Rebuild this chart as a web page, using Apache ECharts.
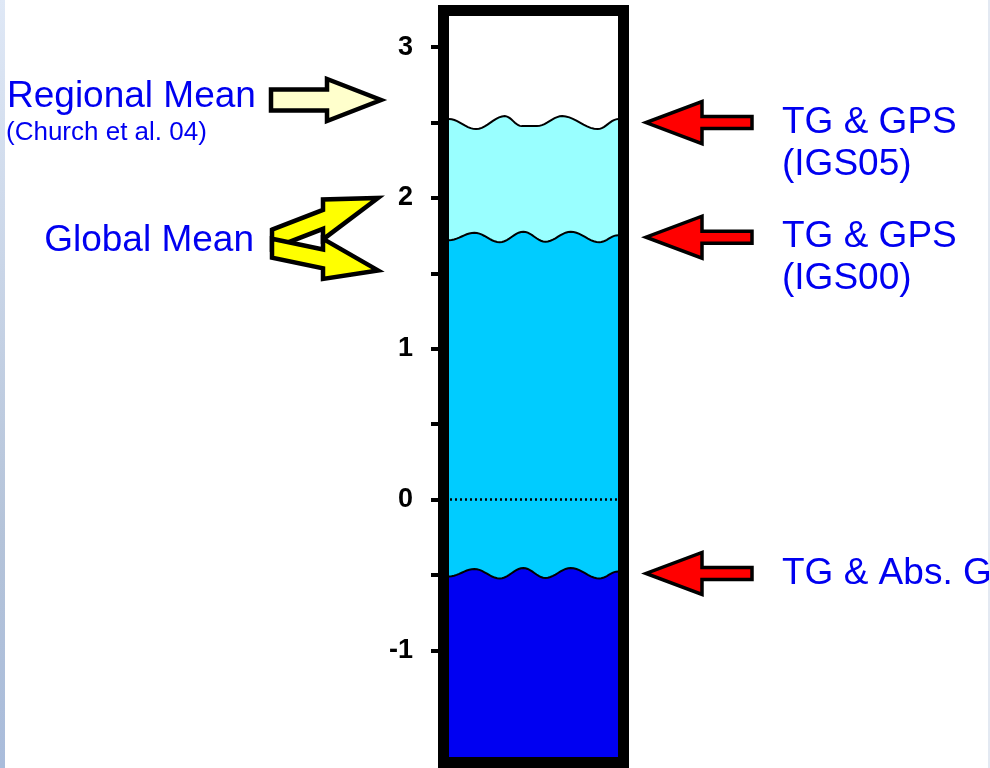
<!DOCTYPE html>
<html>
<head>
<meta charset="utf-8">
<script src="https://cdn.jsdelivr.net/npm/echarts@6/dist/echarts.min.js"></script>
<style>
  html, body { margin: 0; padding: 0; background: #ffffff; }
  #chart { width: 990px; height: 768px; }
</style>
</head>
<body>
<div id="chart"></div>
<script>
// ---- values ----
const axisMin = -1.78;
const axisMax = 3.28;
const labelTicks = [-1, 0, 1, 2, 3];
const tickValues = [-1, -0.5, 0, 0.5, 1, 1.5, 2, 2.5, 3];

// water levels inside the column, highest first
const levelNames = ['TG & GPS\n(IGS05)', 'TG & GPS\n(IGS00)', 'TG & Abs. G'];
const levelValues = [2.50, 1.74, -0.49];

const referenceLevel = 0;

const regionalMean = 2.65;
const regionalName = 'Regional Mean';
const regionalNote = '(Church et al. 04)';

const globalMeanValues = [2.0, 1.52];
const globalName = 'Global Mean';

// ---- style ----
const FONT = '"Liberation Sans", Arial, Helvetica, sans-serif';
const TEXT_BLUE = '#0000f0';
const LAYER_COLORS = ['#99ffff', '#00ccff', '#0000f2'];
const FRAME_W = 11;
// wave outlines: [fraction of column width, vertical offset in px]
const WAVE_TOP = [[0, -3.5], [0.16, 6.5], [0.33, -6.5], [0.43, 3.5], [0.52, 3.5], [0.67, -6.5], [0.88, 6.5], [1, -3.5]];
const WAVE_LOW = [[0, 3], [0.15, -4.5], [0.30, 5], [0.44, -5.5], [0.57, 4.5], [0.72, -5.5], [0.89, 5], [1, -2]];
const LAYER_WAVES = [WAVE_TOP, WAVE_LOW, WAVE_LOW];

function wavePoints(keys, x0, x1, yBase) {
  const pts = [];
  for (let k = 0; k < keys.length - 1; k++) {
    const [fa, da] = keys[k];
    const [fb, db] = keys[k + 1];
    const steps = 10;
    for (let s = 0; s < steps; s++) {
      const t = s / steps;
      const e = (1 - Math.cos(Math.PI * t)) / 2;
      const f = fa + (fb - fa) * t;
      pts.push([x0 + (x1 - x0) * f, yBase + da + (db - da) * e]);
    }
  }
  const last = keys[keys.length - 1];
  pts.push([x0 + (x1 - x0) * last[0], yBase + last[1]]);
  return pts;
}

// arrow whose tail and head base stay vertical; the shaft runs from tail to tip
function arrowPoints(xTail, yTail, xTip, yTip, shaftHalf, headHalf, headLen) {
  const slope = (yTip - yTail) / (xTip - xTail);
  const dir = Math.sign(xTip - xTail);
  const xNeck = xTip - dir * headLen;
  const yNeck = yTail + slope * (xNeck - xTail);
  return [
    [xTail, yTail - shaftHalf],
    [xNeck, yNeck - shaftHalf],
    [xNeck, yNeck - headHalf],
    [xTip, yTip],
    [xNeck, yNeck + headHalf],
    [xNeck, yNeck + shaftHalf],
    [xTail, yTail + shaftHalf]
  ];
}

function columnBox(api) {
  const tl = api.coord([0, axisMax]);
  const br = api.coord([1, axisMin]);
  return { left: tl[0], top: tl[1], right: br[0], bottom: br[1] };
}

const chart = echarts.init(document.getElementById('chart'), null, { renderer: 'canvas' });

const option = {
  animation: false,
  backgroundColor: '#ffffff',
  graphic: [
    {
      type: 'rect', left: 0, top: 0, z: 0,
      shape: { width: 5, height: 768 },
      style: {
        fill: new echarts.graphic.LinearGradient(0, 0, 0, 1, [
          { offset: 0, color: '#dfe8f6' },
          { offset: 0.7, color: '#b4c3d9' },
          { offset: 1, color: '#a9bcdb' }
        ])
      }
    },
    {
      type: 'rect', right: 0, top: 0, z: 0,
      shape: { width: 2, height: 768 },
      style: { fill: '#e3e9f2' }
    }
  ],
  grid: { left: 438, width: 191, top: 5, bottom: -4, containLabel: false },
  xAxis: { type: 'value', min: 0, max: 1, show: false },
  yAxis: {
    type: 'value',
    min: axisMin,
    max: axisMax,
    axisLine: { show: false },
    splitLine: { show: false },
    axisTick: {
      show: true,
      inside: false,
      length: 7,
      customValues: tickValues,
      lineStyle: { color: '#000', width: 4 }
    },
    axisLabel: {
      show: true,
      customValues: labelTicks,
      margin: 25,
      color: '#000',
      fontFamily: FONT,
      fontWeight: 'bold',
      fontSize: 27
    }
  },
  series: [
    {
      name: 'levels',
      type: 'custom',
      clip: false,
      data: levelValues.map((v, i) => ({ name: levelNames[i], value: [0, v] })),
      renderItem: function (params, api) {
        const i = params.dataIndex;
        const box = columnBox(api);
        const x0 = box.left + FRAME_W;
        const x1 = box.right - FRAME_W;
        const y = api.coord([0, api.value(1)])[1];
        const wave = wavePoints(LAYER_WAVES[i], x0, x1, y);
        const fillPts = wave.concat([[x1 + 2, box.bottom], [x0 - 2, box.bottom]]);
        const ax = box.right;
        return {
          type: 'group',
          children: [
            { type: 'polygon', shape: { points: fillPts }, style: { fill: LAYER_COLORS[i], stroke: null } },
            { type: 'polyline', shape: { points: wave }, style: { fill: null, stroke: '#000', lineWidth: 2 } },
            {
              type: 'polygon',
              shape: { points: arrowPoints(ax + 123, y, ax + 17, y, 6, 21, 56) },
              style: { fill: '#ff0000', stroke: '#000', lineWidth: 3.5, lineJoin: 'miter' }
            },
            {
              type: 'text',
              style: {
                text: levelNames[i],
                x: ax + 153,
                y: y - 21,
                fill: TEXT_BLUE,
                font: '37px ' + FONT,
                lineHeight: 42,
                align: 'left',
                verticalAlign: 'top'
              }
            }
          ]
        };
      }
    },
    {
      name: 'regional mean',
      type: 'custom',
      clip: false,
      data: [[0, regionalMean]],
      renderItem: function (params, api) {
        const y = api.coord([0, api.value(1)])[1];
        const xTip = columnBox(api).left - 57;
        return {
          type: 'group',
          children: [
            {
              type: 'polygon',
              shape: { points: arrowPoints(xTip - 110, y, xTip, y, 10.5, 21, 54) },
              style: { fill: '#ffffcc', stroke: '#000', lineWidth: 4.5, lineJoin: 'miter' }
            },
            {
              type: 'text',
              style: { text: regionalName, x: 7, y: y - 3, fill: TEXT_BLUE, font: '37px ' + FONT, align: 'left', verticalAlign: 'middle' }
            },
            {
              type: 'text',
              style: { text: regionalNote, x: 6, y: y + 33, fill: TEXT_BLUE, font: '26px ' + FONT, align: 'left', verticalAlign: 'middle' }
            }
          ]
        };
      }
    },
    {
      name: 'global mean',
      type: 'custom',
      clip: false,
      data: globalMeanValues.map(v => [0, v]),
      renderItem: function (params, api) {
        const i = params.dataIndex;
        const yHigh = api.coord([0, globalMeanValues[0]])[1];
        const yLow = api.coord([0, globalMeanValues[1]])[1];
        const yMid = (yHigh + yLow) / 2 + 7;
        const y = api.coord([0, api.value(1)])[1];
        const xTip = columnBox(api).left - 60;
        const yTail = i === 0 ? yMid - 2 : yMid + 7;
        const children = [
          {
            type: 'polygon',
            shape: { points: arrowPoints(xTip - 106, yTail, xTip, y, 9.5, 20, 55) },
            style: { fill: '#ffff00', stroke: '#000', lineWidth: 4.5, lineJoin: 'miter' }
          }
        ];
        if (i === 0) {
          children.push({
            type: 'text',
            style: { text: globalName, x: 254, y: yMid, fill: TEXT_BLUE, font: '37px ' + FONT, align: 'right', verticalAlign: 'middle' }
          });
        }
        return { type: 'group', children: children };
      }
    },
    {
      name: 'column',
      type: 'custom',
      clip: false,
      data: [[0, referenceLevel]],
      renderItem: function (params, api) {
        const box = columnBox(api);
        const h = FRAME_W / 2;
        const y0 = api.coord([0, api.value(1)])[1];
        return {
          type: 'group',
          children: [
            {
              type: 'line',
              shape: { x1: box.left + FRAME_W + 1, y1: y0, x2: box.right - FRAME_W - 1, y2: y0 },
              style: { stroke: '#000', lineWidth: 2.5, lineDash: [2, 3] }
            },
            {
              type: 'rect',
              shape: { x: box.left + h, y: box.top + h, width: box.right - box.left - FRAME_W, height: box.bottom - box.top - FRAME_W },
              style: { fill: null, stroke: '#000', lineWidth: FRAME_W, lineJoin: 'miter' }
            }
          ]
        };
      }
    }
  ]
};

chart.setOption(option);
</script>
</body>
</html>
